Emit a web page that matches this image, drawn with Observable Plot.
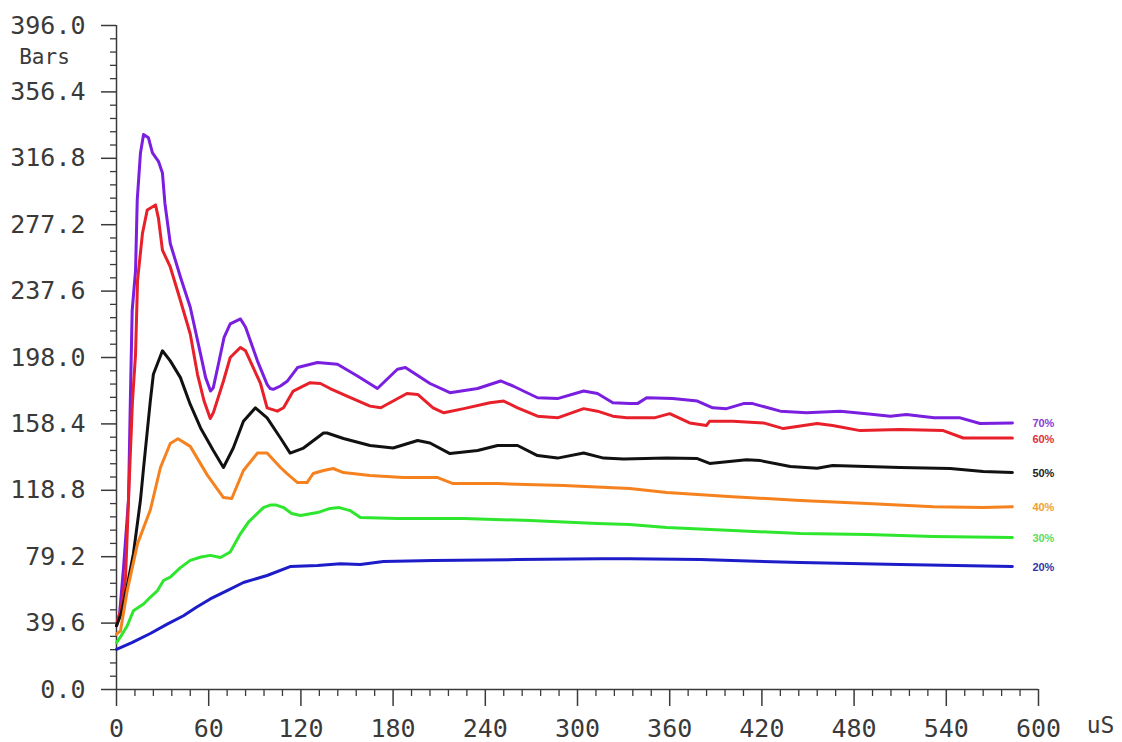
<!DOCTYPE html>
<html>
<head>
<meta charset="utf-8">
<script src="https://cdn.jsdelivr.net/npm/d3@7"></script>
<script src="https://cdn.jsdelivr.net/npm/@observablehq/plot@0.6"></script>
<style>
  html, body { margin: 0; padding: 0; background: #fff; }
  #chart svg { display: block; }
</style>
</head>
<body>
<div id="chart"></div>
<script>
// Series (time in uS, pressure in Bars)
const s70 = [[0,38],[2,45],[4.6,73],[7.8,113],[9,172],[10.2,226],[12.4,250],[13.5,292],[15.6,320],[17.6,331],[20.8,329],[23.4,320],[27.3,315],[29.9,308],[31.5,290],[35,266],[41.6,246],[48,228],[54.7,200],[58,186],[61.2,178],[63,180],[66.3,194],[70,210],[74,218],[80.7,221],[84,216],[91.7,196],[98,182],[100,179.5],[102,179],[106.7,181],[111.3,184],[117.8,192],[130.8,195],[143.8,194],[156.8,187],[169.8,179.5],[182.8,191],[188,192],[204,182.5],[217,177],[235,179.5],[250,184],[258,181],[274,174],[287,173.5],[304,178],[313,176.5],[323,171],[334,170.5],[339,170.5],[345,174],[362,173.5],[378,172],[388,168],[397,167.5],[408,170.5],[414,170.5],[432,166],[449,165],[471,166],[488,164.5],[503.6,163],[514,164],[532,162],[549,162],[562,158.6],[583,159]];
const s60 = [[0,39],[3,48],[5.9,67],[7.8,113],[10.4,172],[12.4,200],[13.7,244],[16.9,272],[20,286],[25.4,289],[27.3,281],[29.9,262],[35,252],[41.6,232],[48,212],[52.7,188],[57,172],[61,161.6],[63,165],[69.6,184],[74,198],[80.7,204],[84,202],[93.7,182.5],[98,168],[104.7,166],[108.7,168],[115,178],[126,183],[132.7,182.5],[139,179.5],[150,175],[165,169],[172,168],[189,176.5],[196,176],[206,168],[213,165],[226,167.5],[243,171],[252,172],[261,168],[274,163],[287,162],[304,167.5],[313,166],[323,163],[332,162],[350,162],[360,164.5],[373,159],[384,157.5],[386,160],[401,160],[421,159],[434,155.6],[456,158.6],[466,157.5],[484,154.4],[510,155],[538,154.4],[551,150],[583,150]];
const s50 = [[0,38],[3,45],[7,62],[11,81],[15.6,113],[17.6,132],[22,172],[24,188],[29.9,202],[35,196],[41.6,186],[48,170],[54.7,156],[63,142.5],[69.6,132.4],[76,144],[82.6,160],[90.4,168],[98,162],[106.7,150],[113,141],[121.7,144],[134.7,153],[137,153],[147.7,149.7],[165,145.5],[180,144],[196,148.5],[204,147],[217,140.7],[235,142.5],[248,145.5],[261,145.5],[274,139.5],[287,138],[304,141],[317,138],[330,137.5],[358,138],[378,137.7],[386,134.8],[410,137],[419,136.5],[438.5,133],[456,132],[466,133.6],[510,132.4],[542.6,131.8],[564,130],[583,129.4]];
const s40 = [[0,33],[2.6,35],[7,59],[13.7,87],[22,107],[28.6,132.4],[35,146.7],[40,149.5],[48,145],[59,128],[69.6,114.5],[75,113.9],[82.6,130.6],[91.7,141],[98,141],[106.7,132.4],[111,128.8],[117.8,123.4],[124,123.4],[128,128.8],[134.7,130.6],[141,131.8],[147.7,129.4],[165,127.6],[186.7,126.4],[209,126.4],[219,122.8],[248,122.8],[291,121.6],[334,119.9],[358,117.5],[401,115],[445,112.7],[488.6,110.9],[531.6,109],[564,108.5],[583,109]];
const s30 = [[0,28],[3,32],[7,38],[11,47],[17.6,51],[22,55],[26.7,59],[30.6,65],[35,67],[41.6,72.7],[48,77],[55,79],[61,80],[67.7,78.7],[74,82],[80.7,93],[86,100],[91.7,105],[95.6,108.5],[100,110],[104,110],[108.7,108.5],[114,105],[119.7,103.8],[130.8,105.5],[139,108],[145,108.5],[152,106.7],[158.7,102.6],[182.8,102],[226,102],[269,100.8],[313,99],[334,98.4],[358,96.6],[401,94.8],[445,93],[488.6,92.4],[531.6,91.2],[583,90.6]];
const s20 = [[0,24],[10,28],[22,33.4],[33,39],[43.6,44],[52,49],[61,54],[72,59],[82.6,63.8],[98,68],[113,73.3],[130.8,74],[145.7,75],[158.7,74.5],[173.7,76.3],[206,77],[261,77.5],[315,78],[334,78],[380,77.5],[445,75.7],[510,74.5],[583,73.3]];

const seriesNames = ["70%", "60%", "50%", "40%", "30%", "20%"];
const seriesData = [s70, s60, s50, s40, s30, s20];
const lineColors = ["#7a1ee0", "#e8202a", "#111111", "#f5821f", "#2ee62e", "#1c1cc8"];
const labelColors = ["#8a3ad8", "#e0303a", "#222222", "#f0a030", "#5cdc5c", "#3434a8"];

const xTicks = [0, 60, 120, 180, 240, 300, 360, 420, 480, 540, 600];
const yTicks = [0, 39.6, 79.2, 118.8, 158.4, 198.0, 237.6, 277.2, 316.8, 356.4, 396.0];
const xMinor = d3.range(0, 51).map(i => i * 12).filter(v => v % 60 !== 0);
const yMinor = d3.range(0, 51).map(i => +(i * 7.92).toFixed(2)).filter((v, i) => i % 5 !== 0);

const rows = seriesData.flatMap((s, k) => s.map(([t, v]) => ({t, v, series: seriesNames[k]})));
const ends = seriesData.map((s, k) => ({t: s[s.length - 1][0], v: s[s.length - 1][1], series: seriesNames[k], color: labelColors[k]}));

const axisFont = "DejaVu Sans Mono";
const ink = "#3a3a3a";

const chart = Plot.plot({
  width: 1122,
  height: 742,
  marginLeft: 116,
  marginRight: 84,
  marginTop: 25,
  marginBottom: 53,
  x: {domain: [0, 600]},
  y: {domain: [0, 396]},
  color: {domain: seriesNames, range: lineColors},
  style: {fontFamily: axisFont, color: ink, background: "#fff"},
  marks: [
    Plot.axisY({ticks: yMinor, tickSize: 6, tickFormat: () => "", label: null, strokeWidth: 1.3}),
    Plot.axisY({ticks: yTicks, tickSize: 15, tickPadding: 16, tickFormat: d => d.toFixed(1), label: null, fontSize: 25, fontFamily: axisFont, strokeWidth: 1.5}),
    Plot.axisX({ticks: xMinor, tickSize: 7, tickFormat: () => "", label: null, strokeWidth: 1.3}),
    Plot.axisX({ticks: xTicks, tickSize: 17, tickPadding: 13, tickFormat: d => String(d), label: null, fontSize: 25, fontFamily: axisFont, strokeWidth: 1.5}),
    Plot.ruleX([0], {stroke: ink, strokeWidth: 1.5}),
    Plot.ruleY([0], {stroke: ink, strokeWidth: 1.5}),
    Plot.line(rows, {x: "t", y: "v", z: "series", stroke: "series", strokeWidth: 3, strokeLinejoin: "round", strokeLinecap: "round"}),
    Plot.text(ends, {x: "t", y: "v", text: "series", fill: "color", dx: 20, dy: 1, textAnchor: "start", fontWeight: "bold", fontSize: 11, fontFamily: "Liberation Sans"}),
    Plot.text(["Bars"], {frameAnchor: "top-left", dx: -72, dy: 32, text: d => d, textAnchor: "middle", lineAnchor: "middle", fontSize: 21, fontFamily: axisFont, fill: ink}),
    Plot.text(["uS"], {frameAnchor: "bottom-right", dx: 62, dy: 36, text: d => d, textAnchor: "middle", lineAnchor: "middle", fontSize: 23, fontFamily: axisFont, fill: ink})
  ]
});
document.getElementById("chart").appendChild(chart);
</script>
</body>
</html>
